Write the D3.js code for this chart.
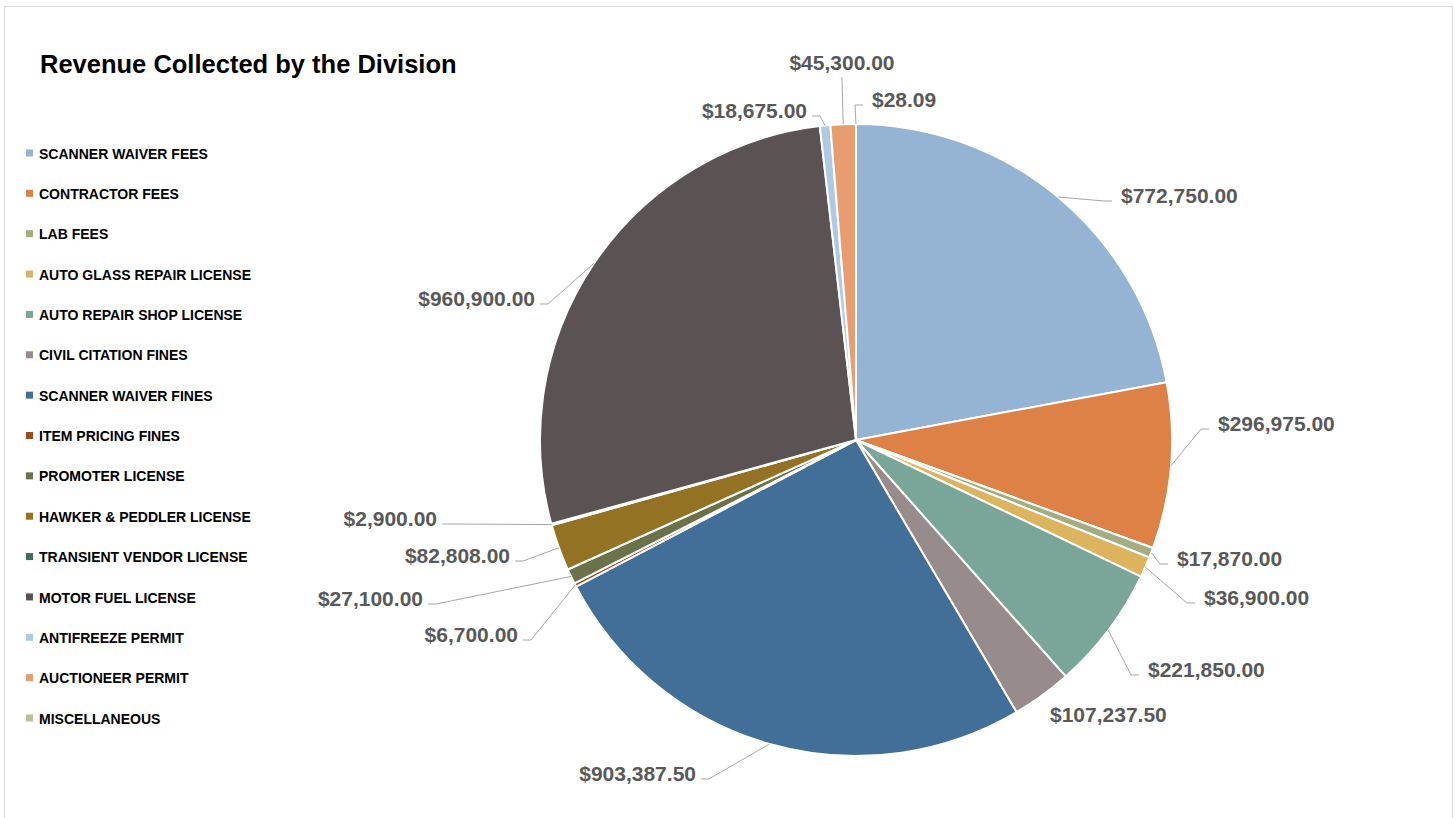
<!DOCTYPE html>
<html>
<head>
<meta charset="utf-8">
<script src="https://cdn.jsdelivr.net/npm/d3@7"></script>
<style>
  html, body { margin: 0; padding: 0; background: #fff; }
  svg { display: block; font-family: "Liberation Sans", Arial, sans-serif; }
</style>
</head>
<body>
<svg id="chart" width="1455" height="818"></svg>
<script>
// ---- data ----
const categories = [
  "SCANNER WAIVER FEES", "CONTRACTOR FEES", "LAB FEES", "AUTO GLASS REPAIR LICENSE",
  "AUTO REPAIR SHOP LICENSE", "CIVIL CITATION FINES", "SCANNER WAIVER FINES",
  "ITEM PRICING FINES", "PROMOTER LICENSE", "HAWKER & PEDDLER LICENSE",
  "TRANSIENT VENDOR LICENSE", "MOTOR FUEL LICENSE", "ANTIFREEZE PERMIT",
  "AUCTIONEER PERMIT", "MISCELLANEOUS"
];
const values = [
  772750.00, 296975.00, 17870.00, 36900.00, 221850.00, 107237.50, 903387.50,
  6700.00, 27100.00, 82808.00, 2900.00, 960900.00, 18675.00, 45300.00, 28.09
];
const colors = [
  "#95B3D3", "#DE8146", "#A3AC83", "#DDB45E", "#7AA699", "#978C8B", "#416F97",
  "#9E4A1F", "#6B7149", "#937224", "#3F6B5E", "#5A5253", "#AECAE3", "#E89D70", "#B7C196"
];
const title = "Revenue Collected by the Division";

// label layout (text anchor point x, vertical centre y, anchor, leader line shown)
const labelLayout = [
  [1121, 195, "start", true], [1218, 423, "start", true], [1177, 558, "start", true],
  [1204, 597, "start", true], [1148, 669, "start", true], [1050, 714, "start", false],
  [696, 773, "end", true], [518, 634, "end", true], [423, 598, "end", true],
  [510, 555, "end", true], [437, 518, "end", true], [535, 298, "end", true],
  [807, 110, "end", true], [842, 62, "middle", true], [872, 99, "start", true]
];

// ---- chart ----
const svg = d3.select("#chart");
const cx = 856, cy = 440, R = 316;

// frame
svg.append("rect").attr("x", 4.5).attr("y", 6.5).attr("width", 1448).attr("height", 830)
  .attr("fill", "none").attr("stroke", "#D9D9D9").attr("stroke-width", 1);

// title
svg.append("text").attr("x", 40).attr("y", 73).attr("font-size", 25.5)
  .attr("font-weight", "bold").attr("fill", "#000").text(title);

// legend
const legend = svg.append("g");
const legendY = d3.scalePoint().domain(categories).range([153, 718]);
categories.forEach((c, i) => {
  const y = legendY(c);
  legend.append("rect").attr("x", 26).attr("y", y - 3.5).attr("width", 7).attr("height", 7)
    .attr("fill", colors[i]);
  legend.append("text").attr("transform", `translate(39,${y}) scale(0.905,1)`)
    .attr("dy", "0.36em")
    .attr("font-size", 15.5).attr("font-weight", "bold").attr("fill", "#000").text(c);
});

// pie
const pie = d3.pie().sort(null).value(d => d.value);
const data = categories.map((c, i) => ({ name: c, value: values[i], color: colors[i], i }));
const arcs = pie(data);
const arc = d3.arc().innerRadius(0).outerRadius(R);

const g = svg.append("g").attr("transform", `translate(${cx},${cy})`);
g.selectAll("path.slice").data(arcs).join("path")
  .attr("class", "slice")
  .attr("d", arc)
  .attr("fill", d => d.data.color)
  .attr("stroke", "#fff").attr("stroke-width", 2).attr("stroke-linejoin", "round");

// labels + leader lines
const fmt = d3.format(",.2f");
arcs.forEach((a, i) => {
  const [lx, ly, anchor, showLeader] = labelLayout[i];
  const mid = (a.startAngle + a.endAngle) / 2;
  const px = cx + R * Math.sin(mid), py = cy - R * Math.cos(mid);
  let pts;
  if (anchor === "start") pts = [[px, py], [lx - 17, ly + 6], [lx - 9, ly + 6]];
  else if (anchor === "end") pts = [[px, py], [lx + 13, ly + 6], [lx + 5, ly + 6]];
  else pts = [[px, py], [lx, ly + 15]];
  if (showLeader) {
    svg.append("path").attr("d", d3.line()(pts))
      .attr("fill", "none").attr("stroke", "#A6A6A6").attr("stroke-width", 1);
  }
  svg.append("text").attr("x", lx).attr("y", ly).attr("dy", "0.36em")
    .attr("text-anchor", anchor).attr("font-size", 21).attr("font-weight", "bold")
    .attr("fill", "#595959").text("$" + fmt(a.data.value));
});
</script>
</body>
</html>
